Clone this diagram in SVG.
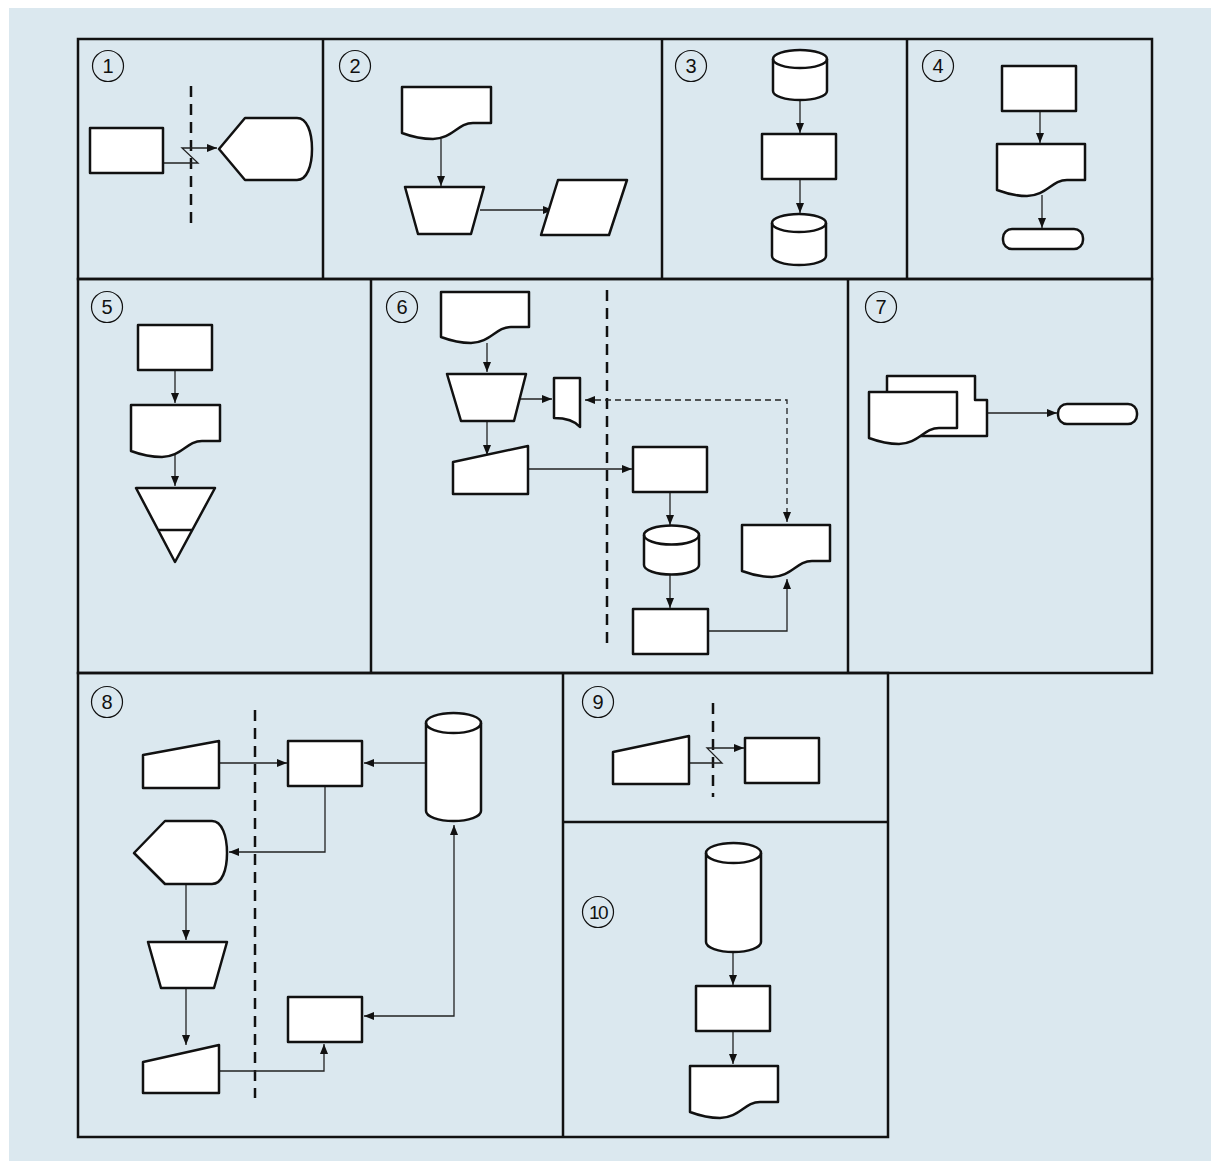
<svg xmlns="http://www.w3.org/2000/svg" width="1211" height="1161" viewBox="0 0 1211 1161">
<defs>
<marker id="ah" viewBox="0 0 10 8" refX="10" refY="4" markerWidth="10" markerHeight="8" markerUnits="userSpaceOnUse" orient="auto-start-reverse"><path d="M0,0 L10,4 L0,8 Z" fill="#111"/></marker>
<style>
.panel{fill:none;stroke:#111;stroke-width:2.5}
.s{fill:#fff;stroke:#111;stroke-width:2.5;stroke-linejoin:round}
.c{fill:none;stroke:#222;stroke-width:1.3}
.dash{fill:none;stroke:#111;stroke-width:2.5;stroke-dasharray:11 7}
.dc{fill:none;stroke:#222;stroke-width:1.3;stroke-dasharray:6 4}
.num{fill:none;stroke:#111;stroke-width:1.2}
.nt{font-family:"Liberation Sans",Arial,sans-serif;font-size:20px;fill:#111;text-anchor:middle}
</style>
</defs>
<rect x="0" y="0" width="1211" height="1161" fill="#fff"/>
<rect x="9" y="8" width="1202" height="1153" fill="#dbe8ef"/>

<g id="panels">
<rect class="panel" x="78" y="39" width="1074" height="240"/>
<line class="panel" x1="323" y1="39" x2="323" y2="279"/>
<line class="panel" x1="662" y1="39" x2="662" y2="279"/>
<line class="panel" x1="907" y1="39" x2="907" y2="279"/>
<rect class="panel" x="78" y="279" width="1074" height="394"/>
<line class="panel" x1="371" y1="279" x2="371" y2="673"/>
<line class="panel" x1="848" y1="279" x2="848" y2="673"/>
<rect class="panel" x="78" y="673" width="810" height="464"/>
<line class="panel" x1="563" y1="673" x2="563" y2="1137"/>
<line class="panel" x1="563" y1="822" x2="888" y2="822"/>
</g>

<g id="labels">
<circle class="num" cx="108" cy="66" r="15.5"/><text class="nt" x="108" y="73">1</text>
<circle class="num" cx="355" cy="66" r="15.5"/><text class="nt" x="355" y="73">2</text>
<circle class="num" cx="691" cy="66" r="15.5"/><text class="nt" x="691" y="73">3</text>
<circle class="num" cx="938" cy="66" r="15.5"/><text class="nt" x="938" y="73">4</text>
<circle class="num" cx="107" cy="307" r="15.5"/><text class="nt" x="107" y="314">5</text>
<circle class="num" cx="402" cy="307" r="15.5"/><text class="nt" x="402" y="314">6</text>
<circle class="num" cx="881" cy="307" r="15.5"/><text class="nt" x="881" y="314">7</text>
<circle class="num" cx="107" cy="702" r="15.5"/><text class="nt" x="107" y="709">8</text>
<circle class="num" cx="598" cy="702" r="15.5"/><text class="nt" x="598" y="709">9</text>
<circle class="num" cx="598" cy="912" r="15.5"/><text class="nt" x="598" y="919" style="font-size:19px;letter-spacing:-1.5px">10</text>
</g>

<g id="dividers">
<line class="dash" x1="191" y1="86" x2="191" y2="228"/>
<line class="dash" x1="607" y1="290" x2="607" y2="650"/>
<line class="dash" x1="255" y1="710" x2="255" y2="1098"/>
<line class="dash" x1="713" y1="703" x2="713" y2="797"/>
</g>

<g id="connectors">
<path class="c" d="M163,163 H198 L182,148 H217" marker-end="url(#ah)"/>
<path class="c" d="M441,139 V186" marker-end="url(#ah)"/>
<path class="c" d="M480,210 H553" marker-end="url(#ah)"/>
<path class="c" d="M800,100 V133" marker-end="url(#ah)"/>
<path class="c" d="M800,179 V213" marker-end="url(#ah)"/>
<path class="c" d="M1040,111 V143" marker-end="url(#ah)"/>
<path class="c" d="M1042,195 V228" marker-end="url(#ah)"/>
<path class="c" d="M175,370 V403" marker-end="url(#ah)"/>
<path class="c" d="M175,455 V486" marker-end="url(#ah)"/>
<path class="c" d="M487,343 V372" marker-end="url(#ah)"/>
<path class="c" d="M519,399 H552" marker-end="url(#ah)"/>
<path class="dc" d="M585,400 H787 V522" marker-start="url(#ah)" marker-end="url(#ah)"/>
<path class="c" d="M487,421 V455" marker-end="url(#ah)"/>
<path class="c" d="M528,469 H632" marker-end="url(#ah)"/>
<path class="c" d="M670,492 V525" marker-end="url(#ah)"/>
<path class="c" d="M670,575 V608" marker-end="url(#ah)"/>
<path class="c" d="M708,631 H787 V579" marker-end="url(#ah)"/>
<path class="c" d="M987,413 H1057" marker-end="url(#ah)"/>
<path class="c" d="M220,763 H287" marker-end="url(#ah)"/>
<path class="c" d="M426,763 H364" marker-end="url(#ah)"/>
<path class="c" d="M325,787 V852 H229" marker-end="url(#ah)"/>
<path class="c" d="M186,884 V940" marker-end="url(#ah)"/>
<path class="c" d="M186,988 V1045" marker-end="url(#ah)"/>
<path class="c" d="M220,1071 H324 V1044" marker-end="url(#ah)"/>
<path class="c" d="M364,1016 H454 V825" marker-start="url(#ah)" marker-end="url(#ah)"/>
<path class="c" d="M689,763 H722 L707,748 H744" marker-end="url(#ah)"/>
<path class="c" d="M733,952 V985" marker-end="url(#ah)"/>
<path class="c" d="M733,1031 V1064" marker-end="url(#ah)"/>
</g>

<g id="n1a"><rect class="s" x="90" y="128" width="73" height="45"/></g>
<g id="n1b"><path class="s" d="M219,149 L245,118 H297 C307,118 312,132 312,149 C312,166 307,180 297,180 H245 Z"/></g>

<g id="n2a"><path class="s" d="M402,87 H491 V123 H473 C458,123 452,139 433,139 C420,139 410,136 402,133 Z"/></g>
<g id="n2b"><path class="s" d="M405,187 H484 L471,234 H418 Z"/></g>
<g id="n2c"><path class="s" d="M558,180 H627 L609,235 H541 Z"/></g>

<g id="n3a"><path class="s" d="M773,59 A27,9 0 0 1 827,59 V91 A27,9 0 0 1 773,91 Z"/><path class="s" style="fill:none" d="M773,59 A27,9 0 0 0 827,59"/></g>
<g id="n3b"><rect class="s" x="762" y="134" width="74" height="45"/></g>
<g id="n3c"><path class="s" d="M772,223 A27,9 0 0 1 826,223 V256 A27,9 0 0 1 772,256 Z"/><path class="s" style="fill:none" d="M772,223 A27,9 0 0 0 826,223"/></g>

<g id="n4a"><rect class="s" x="1002" y="66" width="74" height="45"/></g>
<g id="n4b"><path class="s" d="M997,144 H1085 V180 H1067 C1052,180 1046,196 1027,196 C1014,196 1005,193 997,190 Z"/></g>
<g id="n4c"><rect class="s" x="1003" y="229" width="80" height="20" rx="9"/></g>

<g id="n5a"><rect class="s" x="138" y="325" width="74" height="45"/></g>
<g id="n5b"><path class="s" d="M131,405 H220 V441 H202 C187,441 181,457 162,457 C149,457 139,454 131,451 Z"/></g>
<g id="n5c"><path class="s" d="M136,488 H215 L175,562 Z"/><line class="s" x1="159" y1="530" x2="192" y2="530"/></g>

<g id="n6a"><path class="s" d="M441,292 H529 V327 H511 C496,327 490,343 471,343 C458,343 449,340 441,337 Z"/></g>
<g id="n6b"><path class="s" d="M447,374 H526 L514,421 H461 Z"/></g>
<g id="n6c"><path class="s" d="M554,378 H580 V427 C574,420 566,418 554,418 Z"/></g>
<g id="n6d"><path class="s" d="M453,462 L528,446 V494 H453 Z"/></g>
<g id="n6e"><rect class="s" x="633" y="447" width="74" height="45"/></g>
<g id="n6f"><path class="s" d="M644,535 A27.5,9.5 0 0 1 699,535 V565 A27.5,9.5 0 0 1 644,565 Z"/><path class="s" style="fill:none" d="M644,535 A27.5,9.5 0 0 0 699,535"/></g>
<g id="n6g"><rect class="s" x="633" y="609" width="75" height="45"/></g>
<g id="n6h"><path class="s" d="M742,525 H830 V561 H812 C797,561 791,577 772,577 C759,577 750,574 742,571 Z"/></g>

<g id="n7a"><path class="s" d="M887,412 V376 H975 V400 H987 V436 H920 Z"/><path class="s" d="M869,392 H957 V428 H939 C924,428 918,444 899,444 C886,444 877,441 869,438 Z"/></g>
<g id="n7b"><rect class="s" x="1058" y="404" width="79" height="20" rx="9"/></g>

<g id="n8a"><path class="s" d="M143,755 L219,741 V788 H143 Z"/></g>
<g id="n8b"><rect class="s" x="288" y="741" width="74" height="45"/></g>
<g id="n8c"><path class="s" d="M426,723 A27.5,10 0 0 1 481,723 V811 A27.5,10 0 0 1 426,811 Z"/><path class="s" style="fill:none" d="M426,723 A27.5,10 0 0 0 481,723"/></g>
<g id="n8d"><path class="s" d="M134,853 L165,821 H212 C222,821 227,836 227,853 C227,870 222,884 212,884 H165 Z"/></g>
<g id="n8e"><path class="s" d="M148,942 H227 L214,988 H161 Z"/></g>
<g id="n8f"><path class="s" d="M143,1062 L219,1045 V1093 H143 Z"/></g>
<g id="n8g"><rect class="s" x="288" y="997" width="74" height="45"/></g>

<g id="n9a"><path class="s" d="M613,752 L689,736 V784 H613 Z"/></g>
<g id="n9b"><rect class="s" x="745" y="738" width="74" height="45"/></g>

<g id="n10a"><path class="s" d="M706,853 A27.5,10 0 0 1 761,853 V942 A27.5,10 0 0 1 706,942 Z"/><path class="s" style="fill:none" d="M706,853 A27.5,10 0 0 0 761,853"/></g>
<g id="n10b"><rect class="s" x="696" y="986" width="74" height="45"/></g>
<g id="n10c"><path class="s" d="M690,1066 H778 V1102 H760 C745,1102 739,1118 720,1118 C707,1118 698,1115 690,1112 Z"/></g>
</svg>
